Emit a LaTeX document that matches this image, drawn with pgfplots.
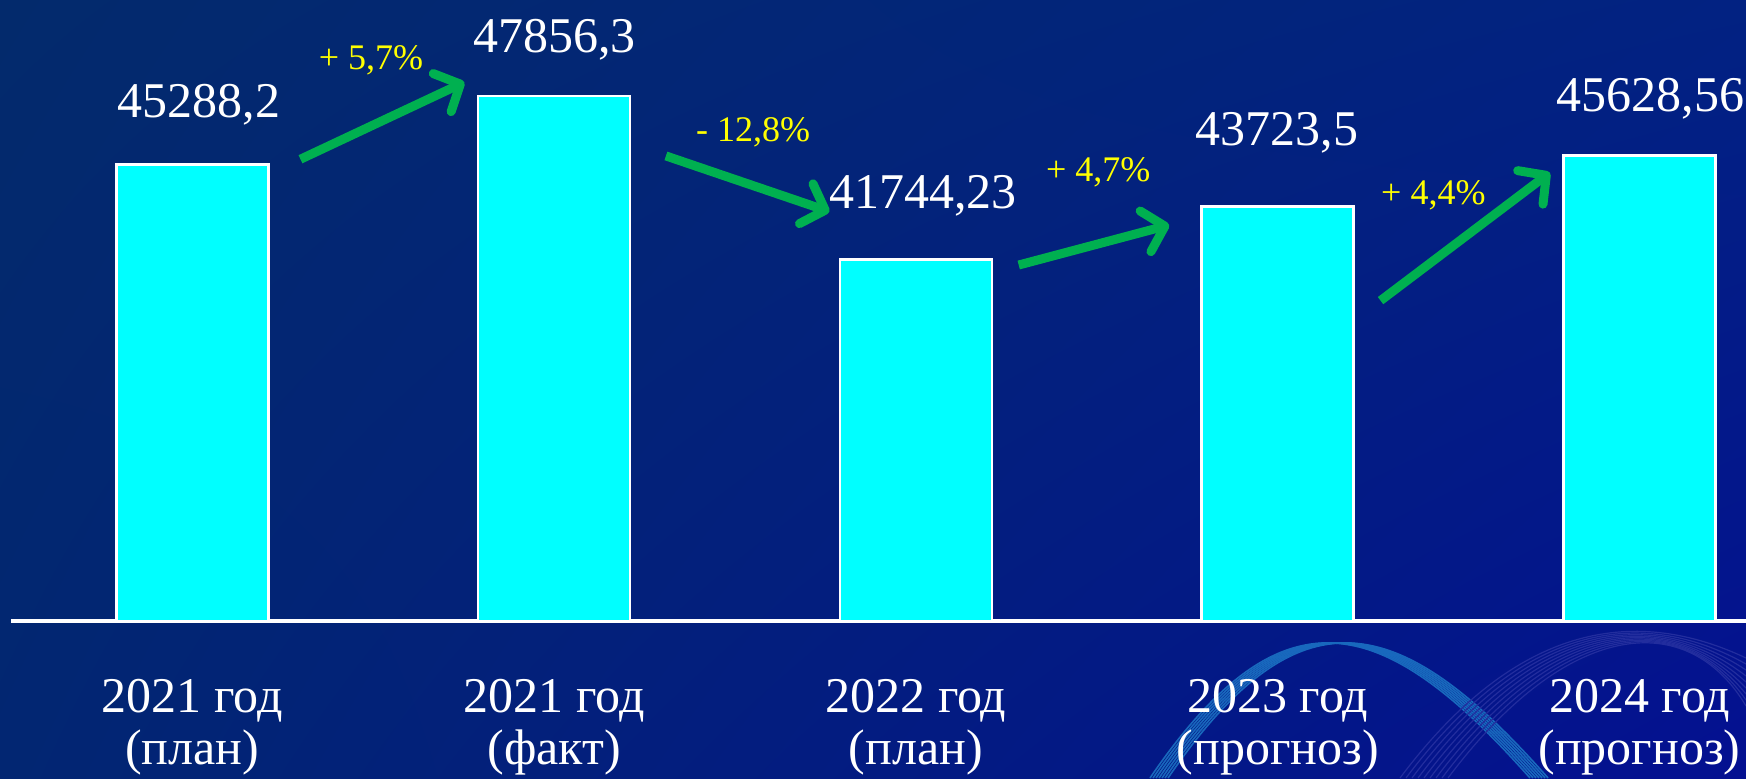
\documentclass[border=0pt]{standalone}
\usepackage{pgfplots}
\pgfplotsset{compat=1.18}
\usepackage{fontspec}
\setmainfont{Liberation Serif}
\newfontfamily\tnr{Liberation Serif}
\usetikzlibrary{arrows.meta,shadings}
\definecolor{bgUL}{RGB}{3,42,108}
\definecolor{bgUR}{RGB}{2,34,130}
\definecolor{bgLL}{RGB}{2,38,114}
\definecolor{bgLR}{RGB}{4,16,145}
\definecolor{barcyan}{RGB}{0,255,255}
\definecolor{arrowgreen}{RGB}{0,176,80}
\definecolor{pctyellow}{RGB}{255,255,0}
\definecolor{ribbon}{RGB}{40,175,225}
\begin{document}
\begin{tikzpicture}[font=\tnr]
\shade[upper left=bgUL, upper right=bgUR, lower left=bgLL, lower right=bgLR] (0,0) rectangle (873pt,389pt);
% decorative ribbon
\foreach \d in {0,1.5,...,9}{
  \draw[ribbon!55!bgLR, line width=0.8pt] (575pt+\d pt,0) .. controls (640pt+\d pt,95pt) and (690pt+\d pt,85pt) .. (765pt+\d pt,0);
}
\foreach \d in {0,3,...,24}{
  \draw[white!12!bgLR, line width=0.6pt] (700pt+\d pt,0) .. controls (760pt+\d pt,80pt) and (820pt+\d pt,85pt) .. (873pt,60pt-\d pt);
}
\begin{axis}[
  at={(5.5pt,78.5pt)}, anchor=south west,
  scale only axis, width=867.5pt, height=310.5pt,
  xmin=-0.501, xmax=4.294, ymin=28200, ymax=51458,
  axis x line=bottom, axis y line=none,
  axis line style={-, white, line width=2pt},
  xtick={0,1,2,3,4},
  xticklabels={{2021 год\\(план)},{2021 год\\(факт)},{2022 год\\(план)},{2023 год\\(прогноз)},{2024 год\\(прогноз)}},
  major tick length=0pt,
  xticklabel style={align=center, text=white, font=\tnr\fontsize{25}{26}\selectfont, yshift=-25.5pt},
]
\addplot[ybar, bar width=76pt, fill=barcyan, draw=white, line width=1.3pt]
  coordinates {(0,45288.2) (1,47856.3) (2,41744.23) (3,43723.5) (4,45628.56)};
% value labels
\begin{scope}[every node/.style={text=white, anchor=base, inner sep=0pt, font=\tnr\fontsize{25}{25}\selectfont}]
\node at (axis cs:0.0185,47075) {45288,2};
\node at (axis cs:1.001,49509) {47856,3};
\node at (axis cs:2.019,43667) {41744,23};
\node at (axis cs:2.998,46026) {43723,5};
\node at (axis cs:4.03,47300) {45628,56};
\end{scope}
% percentage labels
\begin{scope}[every node/.style={text=pctyellow, anchor=base, inner sep=0pt, font=\tnr\fontsize{18}{18}\selectfont}]
\node at (axis cs:0.494,48872) {+ 5,7\%};
\node at (axis cs:1.550,46176) {- 12,8\%};
\node at (axis cs:2.504,44659) {+ 4,7\%};
\node at (axis cs:3.430,43817) {+ 4,4\%};
\end{scope}
% arrows
\begin{scope}[arrowgreen, line width=4.5pt, -{Straight Barb[length=10pt,width=21pt,round]}]
\draw (axis cs:0.299,45494) -- (axis cs:0.752,48380);
\draw (axis cs:1.309,45618) -- (axis cs:1.761,43532);
\draw (axis cs:2.284,41532) -- (axis cs:2.700,43030);
\draw (axis cs:3.284,40199) -- (axis cs:3.752,44993);
\end{scope}
\end{axis}
\pgfresetboundingbox
\useasboundingbox (0,0) rectangle (873pt,389pt);
\end{tikzpicture}
\end{document}
